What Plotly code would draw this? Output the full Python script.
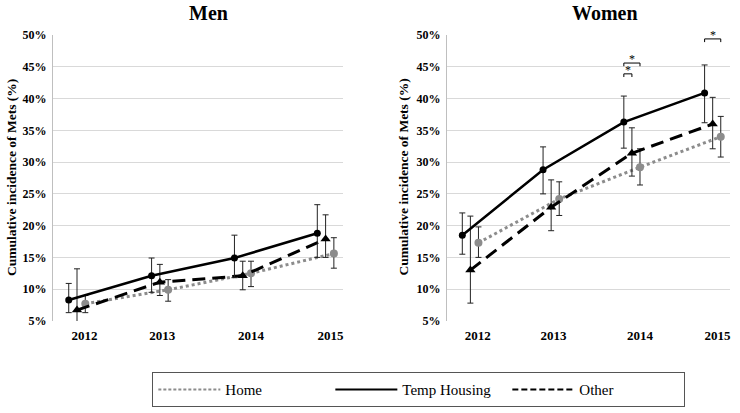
import plotly.graph_objects as go

years = [2012, 2013, 2014, 2015]
groups = ["Home", "Temp Housing", "Other"]

# cumulative incidence (%), error bar upper / lower ends
men_home = [7.7, 9.9, 12.5, 15.6]
men_home_hi = [9.0, 11.5, 14.4, 18.1]
men_home_lo = [6.3, 8.1, 10.4, 13.3]
men_temp = [8.3, 12.1, 14.9, 18.8]
men_temp_hi = [10.9, 14.9, 18.5, 23.3]
men_temp_lo = [6.3, 9.5, 11.8, 15.0]
men_other = [6.7, 11.1, 12.1, 17.9]
men_other_hi = [13.2, 13.9, 14.4, 21.7]
men_other_lo = [3.5, 9.0, 9.9, 15.0]

women_home = [17.3, 24.2, 29.2, 34.0]
women_home_hi = [19.8, 26.9, 32.1, 37.2]
women_home_lo = [15.0, 21.6, 26.4, 30.8]
women_temp = [18.5, 28.8, 36.3, 40.9]
women_temp_hi = [22.0, 32.4, 40.4, 45.3]
women_temp_lo = [15.5, 25.0, 32.2, 36.2]
women_other = [13.0, 22.9, 31.4, 36.0]
women_other_hi = [21.5, 27.2, 35.4, 40.2]
women_other_lo = [7.8, 19.2, 27.8, 32.1]

# significance brackets (women): year, from group, to group, level
sig_year = [2014, 2014, 2015]
sig_from = ["Temp Housing", "Temp Housing", "Temp Housing"]
sig_to = ["Home", "Other", "Home"]
sig_level = [45.6, 43.9, 49.4]

offset = {"Temp Housing": 0.0, "Other": 0.1, "Home": 0.2}
style = {
    "Home": dict(color="#8c8c8c", dash="3px,3px", width=3, symbol="circle", size=8),
    "Temp Housing": dict(color="black", dash="solid", width=2.5, symbol="circle", size=7),
    "Other": dict(color="black", dash="13px,7px", width=3, symbol="triangle-up", size=9),
}
SERIF = "Liberation Serif, Times New Roman, serif"

fig = go.Figure()

panels = [
    ("x", "y", {"Home": (men_home, men_home_hi, men_home_lo),
                "Temp Housing": (men_temp, men_temp_hi, men_temp_lo),
                "Other": (men_other, men_other_hi, men_other_lo)}),
    ("x2", "y2", {"Home": (women_home, women_home_hi, women_home_lo),
                  "Temp Housing": (women_temp, women_temp_hi, women_temp_lo),
                  "Other": (women_other, women_other_hi, women_other_lo)}),
]

for xa, ya, data in panels:
    for g in ["Home", "Other", "Temp Housing"]:
        v, hi, lo = data[g]
        s = style[g]
        fig.add_trace(go.Scatter(
            x=[yr + offset[g] for yr in years], y=v,
            mode="lines+markers", xaxis=xa, yaxis=ya, showlegend=False,
            line=dict(color=s["color"], dash=s["dash"], width=s["width"]),
            marker=dict(color=s["color"], symbol=s["symbol"], size=s["size"]),
            error_y=dict(type="data", symmetric=False,
                         array=[h - a for h, a in zip(hi, v)],
                         arrayminus=[a - l for a, l in zip(v, lo)],
                         color="#222222", thickness=1, width=3),
        ))

# brackets with stars
for yr, g0, g1, lev in zip(sig_year, sig_from, sig_to, sig_level):
    x0, x1 = yr + offset[g0], yr + offset[g1]
    fig.add_trace(go.Scatter(
        x=[x0, x0, x1, x1], y=[lev - 0.5, lev, lev, lev - 0.5],
        mode="lines", xaxis="x2", yaxis="y2", showlegend=False,
        line=dict(color="black", width=1), cliponaxis=False,
    ))
    fig.add_annotation(x=(x0 + x1) / 2, y=lev, xref="x2", yref="y2",
                       text="*", showarrow=False, yanchor="middle", yshift=4,
                       font=dict(family=SERIF, size=12, color="black"))

# legend entries (lines only)
for g in groups:
    s = style[g]
    fig.add_trace(go.Scatter(
        x=[None], y=[None], mode="lines", name=g,
        line=dict(color=s["color"], dash="3px,2px" if g == "Home" else ("6px,3px" if g == "Other" else "solid"),
                  width=2),
    ))

tick_pos = [2012.19, 2013.13, 2014.2, 2015.16]
xcommon = dict(range=[2011.81, 2015.31], tickvals=tick_pos, ticktext=[str(y) for y in years],
               showgrid=False, zeroline=False, showline=False, ticks="", ticklabelstandoff=5,
               tickfont=dict(family=SERIF, size=13, color="black", weight="bold"))
ycommon = dict(range=[5, 50], dtick=5, ticksuffix="%", showgrid=True, gridcolor="#d9d9d9",
               gridwidth=1, zeroline=False, showline=True, linecolor="#bfbfbf", ticks="",
               ticklabelstandoff=3,
               tickfont=dict(family=SERIF, size=12, color="black", weight="bold"))

fig.update_layout(
    width=740, height=413,
    margin=dict(l=0, r=0, t=0, b=0, autoexpand=False),
    paper_bgcolor="white", plot_bgcolor="white",
    xaxis=dict(domain=[0.0716, 0.4635], anchor="y", **xcommon),
    yaxis=dict(domain=[0.223, 0.915], anchor="x", **ycommon),
    xaxis2=dict(domain=[0.604, 0.986], anchor="y2", **xcommon),
    yaxis2=dict(domain=[0.223, 0.915], anchor="x2", **ycommon),
    legend=dict(orientation="h", x=0.566, y=0.056, xanchor="center", yanchor="middle",
                bgcolor="white", bordercolor="#555555", borderwidth=1,
                font=dict(family=SERIF, size=15, color="black"),
                entrywidth=100, entrywidthmode="pixels", itemwidth=62),
    showlegend=True,
)

fig.add_annotation(x=0.282, y=0.9685, xref="paper", yref="paper", text="<b>Men</b>",
                   xanchor="center", yanchor="middle",
                   showarrow=False, font=dict(family=SERIF, size=20, color="black"))
fig.add_annotation(x=0.818, y=0.9685, xref="paper", yref="paper", text="<b>Women</b>",
                   xanchor="center", yanchor="middle",
                   showarrow=False, font=dict(family=SERIF, size=20, color="black"))
for xp in [0.0145, 0.545]:
    fig.add_annotation(x=xp, y=0.571, xref="paper", yref="paper", textangle=-90,
                       xanchor="center", yanchor="middle",
                       text="<b>Cumulative incidence of Mets (%)</b>", showarrow=False,
                       font=dict(family=SERIF, size=13.5, color="black"))

fig.write_html("out.html", config={"displayModeBar": False},
               post_script="document.body.style.margin = '0';")
